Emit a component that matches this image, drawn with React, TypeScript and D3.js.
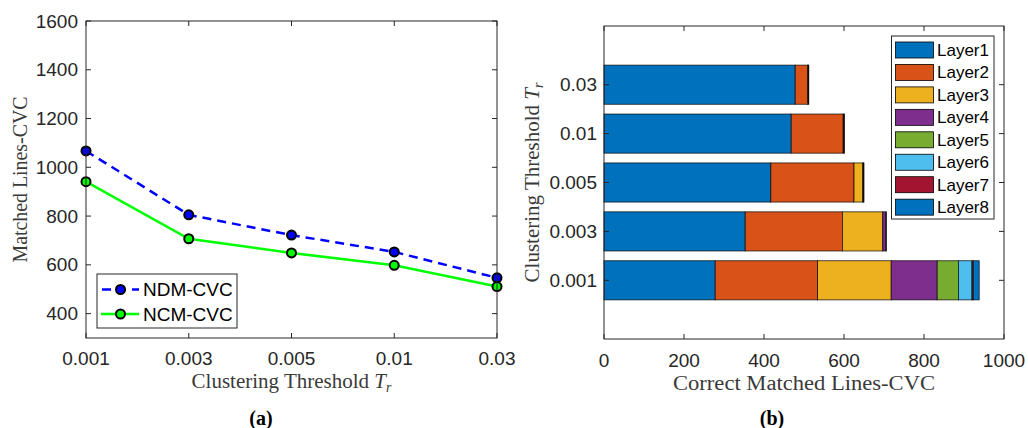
import React from 'react';
import * as d3 from 'd3';

// ---------- Data: left panel ----------
const thresholds = ['0.001', '0.003', '0.005', '0.01', '0.03'];
const ndmValues = [1067, 805, 722, 653, 547];
const ncmValues = [941, 707, 649, 598, 511];
const leftYTicks = [400, 600, 800, 1000, 1200, 1400, 1600];

// ---------- Data: right panel (order 0.001, 0.003, 0.005, 0.01, 0.03) ----------
const barCategories = ['0.001', '0.003', '0.005', '0.01', '0.03'];
const layerNames = ['Layer1', 'Layer2', 'Layer3', 'Layer4', 'Layer5', 'Layer6', 'Layer7', 'Layer8'];
const layer1 = [278, 353, 417, 468, 478];
const layer2 = [256, 243, 208, 130, 31];
const layer3 = [184, 101, 22, 2, 2];
const layer4 = [115, 8, 2, 1, 1];
const layer5 = [53, 1, 1, 0, 0];
const layer6 = [34, 0, 0, 0, 0];
const layer7 = [3, 0, 0, 0, 0];
const layer8 = [15, 0, 0, 0, 0];
const layerColors = ['#0072BD', '#D95319', '#EDB120', '#7E2F8E', '#77AC30', '#4DBEEE', '#A2142F', '#0072BD'];
const rightXTicks = [0, 200, 400, 600, 800, 1000];

const layers = [layer1, layer2, layer3, layer4, layer5, layer6, layer7, layer8];

const AX = '#262626';
const LBL = '#3a3a3a';
const SANS = 'Liberation Sans, Arial, Helvetica, sans-serif';
const SERIF = 'Liberation Serif, Times New Roman, serif';
const TICK_FS = 19;

function LeftPanel() {
  const L = 86, R = 497, T = 21, B = 338;
  const x = d3.scalePoint<string>().domain(thresholds).range([L, R]);
  const y = d3.scaleLinear().domain([300, 1600]).range([B, T]);
  const line = d3.line<number>().x((_, i) => x(thresholds[i])!).y(d => y(d));
  const tl = 5;
  return (
    <g>
      <rect x={L} y={T} width={R - L} height={B - T} fill="#fff" stroke="none" />
      <path d={line(ndmValues)!} fill="none" stroke="#0000FF" strokeWidth={2.5} strokeDasharray="9,6" />
      <path d={line(ncmValues)!} fill="none" stroke="#00FF00" strokeWidth={2.5} />
      {ndmValues.map((v, i) => (
        <circle key={'n' + i} cx={x(thresholds[i])} cy={y(v)} r={4.5} fill="#0000FF" stroke="#000" strokeWidth={2} />
      ))}
      {ncmValues.map((v, i) => (
        <circle key={'c' + i} cx={x(thresholds[i])} cy={y(v)} r={4.5} fill="#00FF00" stroke="#000" strokeWidth={2} />
      ))}
      <rect x={L} y={T} width={R - L} height={B - T} fill="none" stroke={AX} strokeWidth={1} />
      {leftYTicks.map(t => (
        <g key={t}>
          <line x1={L} x2={L + tl} y1={y(t)} y2={y(t)} stroke={AX} />
          <line x1={R} x2={R - tl} y1={y(t)} y2={y(t)} stroke={AX} />
          <text x={L - 8} y={y(t)} dy="0.35em" textAnchor="end" fontFamily={SANS} fontSize={TICK_FS} fill={AX}>{t}</text>
        </g>
      ))}
      {thresholds.map(t => (
        <g key={t}>
          <line x1={x(t)} x2={x(t)} y1={B} y2={B - tl} stroke={AX} />
          <line x1={x(t)} x2={x(t)} y1={T} y2={T + tl} stroke={AX} />
          <text x={x(t)} y={358} dy="0.35em" textAnchor="middle" fontFamily={SANS} fontSize={TICK_FS} fill={AX}>{t}</text>
        </g>
      ))}
      {/* legend */}
      <rect x={97} y={274} width={140} height={54} fill="#fff" stroke={AX} strokeWidth={1} />
      <line x1={101} x2={139} y1={289.5} y2={289.5} stroke="#0000FF" strokeWidth={2.5} strokeDasharray="9,6" strokeDashoffset={-1} />
      <circle cx={120.5} cy={289.5} r={4.5} fill="#0000FF" stroke="#000" strokeWidth={2} />
      <text x={143} y={289.5} dy="0.35em" fontFamily={SANS} fontSize={19} fill="#000">NDM-CVC</text>
      <line x1={101} x2={139} y1={314} y2={314} stroke="#00FF00" strokeWidth={2.5} />
      <circle cx={120.5} cy={314} r={4.5} fill="#00FF00" stroke="#000" strokeWidth={2} />
      <text x={143} y={314} dy="0.35em" fontFamily={SANS} fontSize={19} fill="#000">NCM-CVC</text>
      {/* labels */}
      <text x={(L + R) / 2} y={381} dy="0.35em" textAnchor="middle" fontFamily={SERIF} fontSize={21} fill={LBL}>
        Clustering Threshold <tspan fontStyle="italic">T</tspan><tspan fontStyle="italic" fontSize={14} dy="4">r</tspan>
      </text>
      <text transform={`translate(20,${(T + B) / 2}) rotate(-90)`} dy="0.35em" textAnchor="middle" fontFamily={SERIF} fontSize={20} fill={LBL} textLength={166} lengthAdjust="spacingAndGlyphs">
        Matched Lines-CVC
      </text>
      <text x={261} y={418} dy="0.35em" textAnchor="middle" fontFamily={SERIF} fontSize={20} fontWeight="bold" fill="#000">(a)</text>
    </g>
  );
}

function RightPanel() {
  const L = 604, R = 1004, T = 26, B = 339;
  const x = d3.scaleLinear().domain([0, 1000]).range([L, R]);
  // category index 0 (0.001) at bottom, 4 (0.03) at top
  const y = d3.scaleLinear().domain([-1.2, 5.2]).range([B, T]);
  const band = Math.abs(y(0.8) - y(0));
  const stackData = barCategories.map((c, i) => {
    let acc = 0;
    return layers.map((arr, k) => {
      const x0 = acc;
      acc += arr[i];
      return { k, x0, x1: acc };
    });
  });
  const tl = 5;
  return (
    <g>
      <rect x={L} y={T} width={R - L} height={B - T} fill="#fff" />
      {stackData.map((segs, i) => (
        <g key={i}>
          {segs.filter(s => s.x1 > s.x0).map(s => (
            <rect key={s.k} x={x(s.x0)} y={y(i) - band / 2} width={x(s.x1) - x(s.x0)} height={band}
              fill={layerColors[s.k]} stroke="#000" strokeWidth={0.8} strokeOpacity={0.85} />
          ))}
        </g>
      ))}
      <rect x={L} y={T} width={R - L} height={B - T} fill="none" stroke={AX} strokeWidth={1} />
      {rightXTicks.map(t => (
        <g key={t}>
          <line x1={x(t)} x2={x(t)} y1={B} y2={B - tl} stroke={AX} />
          <line x1={x(t)} x2={x(t)} y1={T} y2={T + tl} stroke={AX} />
          <text x={x(t)} y={360} dy="0.35em" textAnchor="middle" fontFamily={SANS} fontSize={TICK_FS} fill={AX}>{t}</text>
        </g>
      ))}
      {barCategories.map((c, i) => (
        <g key={c}>
          <line x1={L} x2={L + tl} y1={y(i)} y2={y(i)} stroke={AX} />
          <line x1={R} x2={R - tl} y1={y(i)} y2={y(i)} stroke={AX} />
          <text x={597} y={y(i)} dy="0.35em" textAnchor="end" fontFamily={SANS} fontSize={TICK_FS} fill={AX}>{c}</text>
        </g>
      ))}
      {/* legend */}
      <rect x={891.5} y={36} width={102.5} height={183} fill="#fff" stroke={AX} strokeWidth={1} />
      {layerNames.map((n, k) => {
        const cy = 50 + k * 22.45;
        return (
          <g key={n}>
            <rect x={895.5} y={cy - 8} width={38} height={16} fill={layerColors[k]} stroke="#000" strokeWidth={0.8} />
            <text x={937} y={cy} dy="0.35em" fontFamily={SANS} fontSize={17} fill="#000">{n}</text>
          </g>
        );
      })}
      {/* labels */}
      <text x={(L + R) / 2} y={383} dy="0.35em" textAnchor="middle" fontFamily={SERIF} fontSize={20} fill={LBL} textLength={262} lengthAdjust="spacingAndGlyphs">
        Correct Matched Lines-CVC
      </text>
      <text transform={`translate(532,${(T + B) / 2}) rotate(-90)`} dy="0.35em" textAnchor="middle" fontFamily={SERIF} fontSize={21} fill={LBL}>
        Clustering Threshold <tspan fontStyle="italic">T</tspan><tspan fontStyle="italic" fontSize={14} dy="4">r</tspan>
      </text>
      <text x={772} y={418} dy="0.35em" textAnchor="middle" fontFamily={SERIF} fontSize={20} fontWeight="bold" fill="#000">(b)</text>
    </g>
  );
}

export default function App() {
  return (
    <svg width={1028} height={428} viewBox="0 0 1028 428" style={{ position: 'absolute', left: 0, top: 0, background: '#fff' }}>
      <rect x={0} y={0} width={1028} height={428} fill="#fff" />
      <LeftPanel />
      <RightPanel />
    </svg>
  );
}
